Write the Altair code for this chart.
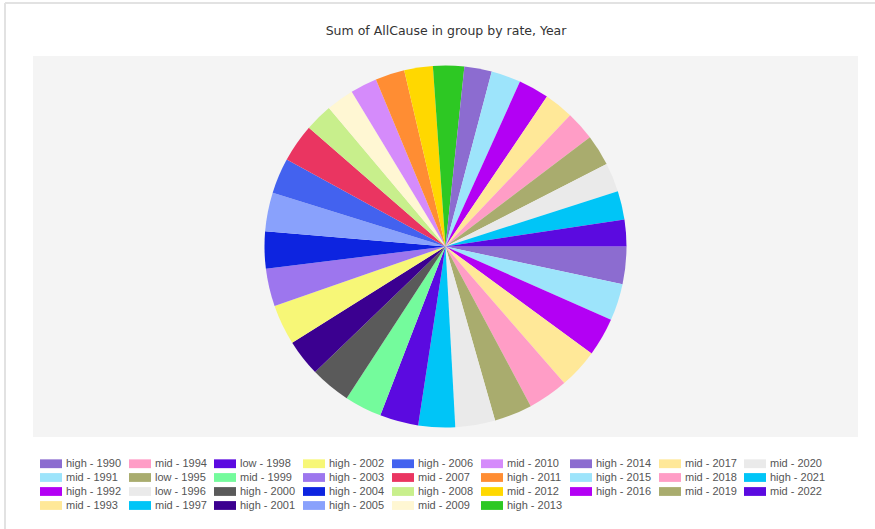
import math
import altair as alt
import pandas as pd

title_text = "Sum of AllCause in group by rate, Year"
years = list(range(1990, 2023))
rates = ["high", "mid", "high", "mid", "mid", "low", "low", "mid", "low", "mid",
         "high", "high", "high", "high", "high", "high", "high", "mid", "high", "mid",
         "mid", "high", "mid", "high", "high", "high", "high", "mid", "mid", "mid",
         "mid", "high", "mid"]
allcause = [120, 119, 123, 128, 129, 122, 128, 118, 124, 120,
            130, 118, 129, 121, 119, 125, 114, 123, 89, 89,
            86, 94, 92, 100, 88, 95, 98, 94, 94, 100,
            93, 92, 86]
palette = ["#8c6cd0", "#9de4fb", "#b300f4", "#ffe898", "#ff9dc6", "#a9ac6e",
           "#eaeaea", "#00c5f7", "#5b0ae0", "#74fb9c", "#5a5a5a", "#3b0090",
           "#f7f777", "#9d76ee", "#0d24e0", "#89a1fc", "#4362ef", "#ea3561",
           "#c8ef8c", "#fff7d3", "#d58bfb", "#ff8d33", "#ffd800", "#2dc823"]

labels = [f"{r} - {y}" for r, y in zip(rates, years)]
colors = [palette[i % len(palette)] for i in range(len(labels))]

df = pd.DataFrame({"label": labels, "value": allcause, "idx": list(range(len(labels)))})

# legend shown column-major (4 rows, 9 columns): reorder domain for row-major flow
col_sizes = [4, 4, 4, 4, 4, 4, 3, 3, 3]
columns = []
start = 0
for s in col_sizes:
    columns.append(list(range(start, start + s)))
    start += s
order_idx = []
for r in range(4):
    for c in columns:
        if r < len(c):
            order_idx.append(c[r])
dom = [labels[i] for i in order_idx]
rng = [colors[i] for i in order_idx]

one = pd.DataFrame({"t": [title_text]})

bg = alt.Chart(one).mark_rect(color="#f4f4f4").encode(
    x=alt.value(0), x2=alt.value(825), y=alt.value(0), y2=alt.value(381)
)

pie = alt.Chart(df).mark_arc(outerRadius=181, strokeWidth=0).encode(
    theta=alt.Theta("value:Q", stack=True,
                    scale=alt.Scale(range=[math.pi / 2, math.pi / 2 + 2 * math.pi])),
    order=alt.Order("idx:Q", sort="ascending"),
    color=alt.Color(
        "label:N",
        scale=alt.Scale(domain=dom, range=rng),
        legend=alt.Legend(
            title=None, orient="none", legendX=7, legendY=402, columns=9,
            direction="horizontal", symbolLimit=0,
            symbolType="M-1,-0.8L3,-0.8L3,0.8L-1,0.8Z", symbolSize=121,
            symbolStrokeWidth=0, symbolOpacity=1,
            labelFont="Liberation Sans", labelFontSize=11, labelColor="#555555",
            labelOffset=15, rowPadding=2, columnPadding=7, labelLimit=200,
        ),
    ),
    tooltip=["label:N", "value:Q"],
)

border = alt.Chart(one).mark_rule(color="#e2e2e2", strokeWidth=2).encode(
    x=alt.value(-28), x2=alt.value(842), y=alt.value(-53), y2=alt.value(-53)
)
border_left = alt.Chart(one).mark_rule(color="#e2e2e2", strokeWidth=2).encode(
    x=alt.value(-28), x2=alt.value(-28), y=alt.value(-53), y2=alt.value(473)
)

title = alt.Chart(one).mark_text(
    font="DejaVu Sans", fontSize=12.5, color="#333333", align="center", baseline="middle"
).encode(text="t:N", x=alt.value(413), y=alt.value(-25))

chart = alt.layer(bg, border, border_left, title, pie).properties(
    width=825, height=381,
    autosize=alt.AutoSizeParams(type="none"),
    padding={"left": 33, "top": 56, "right": 17, "bottom": 92},
).configure(
    background="white",
    view=alt.ViewConfig(fill="#f4f4f4", stroke="transparent", strokeWidth=0),
)

chart.save("out.html", embed_options={"renderer": "svg", "actions": False})
